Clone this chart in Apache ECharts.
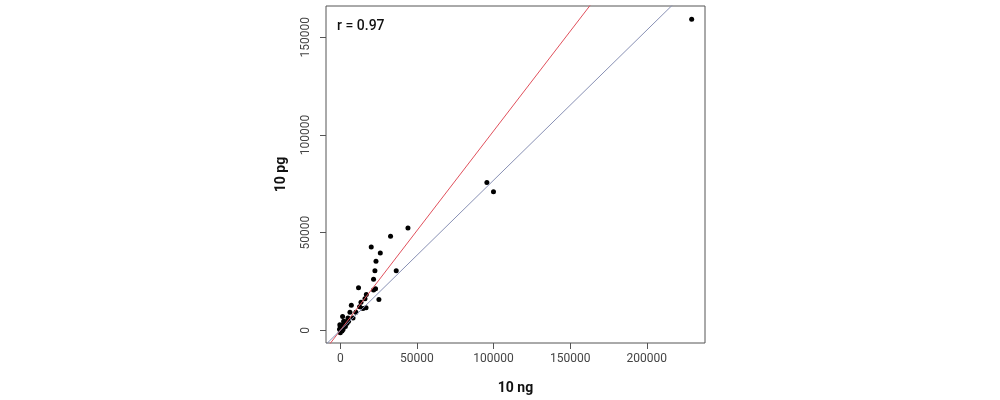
<!DOCTYPE html>
<html>
<head>
<meta charset="utf-8">
<script src="https://cdn.jsdelivr.net/npm/echarts@6/dist/echarts.min.js"></script>
<style>html,body{margin:0;padding:0;background:#fff;}#c{width:1000px;height:400px;}</style>
</head>
<body>
<div id="c"></div>
<script>
// Data
var xValues = [44150, 32800, 20200, 26100, 23300, 22600, 36500, 21700, 11900, 21700, 23000, 25200, 17000, 16100, 13500, 7200, 12600, 14800, 16800, 10200, 6300, 8300, 1500, 5000, 3300,
  2200, 0, 3300, -500, 1100, 0, 4400, 5400, 2200, 1300, 600, -300, 1800, 3000,
  95660, 99970, 229300];
var yValues = [52400, 48100, 42700, 39600, 35400, 30500, 30500, 26200, 21800, 20600, 21300, 15800, 18400, 16200, 14400, 12900, 12100, 11200, 11600, 9300, 9300, 6300, 7100, 6300, 4400,
  3100, 1900, 1900, 500, -300, -1200, 3600, 4700, 4700, 2700, 1000, 2800, 400, 2800,
  75660, 70910, 159200];
var xTicks = [0, 50000, 100000, 150000, 200000];
var yTicks = [0, 50000, 100000, 150000];
var xRange = [-9325, 238000];
var yRange = [-6480, 165969];
var identityLine = {slope: 1.02, intercept: 0};
var fitLine = {slope: 0.768, intercept: 0};
var rLabel = 'r = 0.97';
var xTitle = '10 ng';
var yTitle = '10 pg';

var pts = xValues.map(function (x, i) { return [x, yValues[i]]; });
function lineData(l) {
  return [[xRange[0], l.intercept + l.slope * xRange[0]], [xRange[1], l.intercept + l.slope * xRange[1]]];
}
function plain(v) { return String(v); }
var font = 'Roboto, "DejaVu Sans", sans-serif';
var chart = echarts.init(document.getElementById('c'));
chart.setOption({
  animation: false,
  backgroundColor: '#fff',
  grid: {left: 326, right: 295, top: 6, bottom: 56, show: true, borderColor: '#555', borderWidth: 1, backgroundColor: 'transparent'},
  xAxis: {
    type: 'value', min: xRange[0], max: xRange[1],
    name: xTitle, nameLocation: 'middle', nameGap: 38,
    nameTextStyle: {fontFamily: font, fontSize: 14, fontWeight: 'bold', color: '#111'},
    splitLine: {show: false}, axisLine: {show: false, onZero: false},
    axisTick: {show: true, inside: false, length: 6, lineStyle: {color: '#555'}, customValues: xTicks},
    axisLabel: {customValues: xTicks, formatter: plain, fontFamily: font, fontSize: 12, color: '#444', margin: 10}
  },
  yAxis: {
    type: 'value', min: yRange[0], max: yRange[1],
    name: yTitle, nameLocation: 'middle', nameGap: 38, nameRotate: 90,
    nameTextStyle: {fontFamily: font, fontSize: 14, fontWeight: 'bold', color: '#111'},
    splitLine: {show: false}, axisLine: {show: false, onZero: false},
    axisTick: {show: true, inside: false, length: 6, lineStyle: {color: '#555'}, customValues: yTicks},
    axisLabel: {customValues: yTicks, formatter: plain, rotate: 90, fontFamily: font, fontSize: 12, color: '#444', margin: 14}
  },
  graphic: [{
    type: 'text', left: 337, top: 19,
    style: {text: rLabel, fontFamily: font, fontSize: 14, fontWeight: 500, fill: '#111'}
  }],
  series: [
    {type: 'scatter', z: 2, data: pts, symbol: 'circle', symbolSize: 5, itemStyle: {color: '#000', opacity: 1}},
    {type: 'line', z: 3, data: lineData(identityLine), symbol: 'none', clip: true, lineStyle: {color: '#E0505C', width: 1}, silent: true},
    {type: 'line', z: 3, data: lineData(fitLine), symbol: 'none', clip: true, lineStyle: {color: '#8890B4', width: 1}, silent: true}
  ]
});
</script>
</body>
</html>
